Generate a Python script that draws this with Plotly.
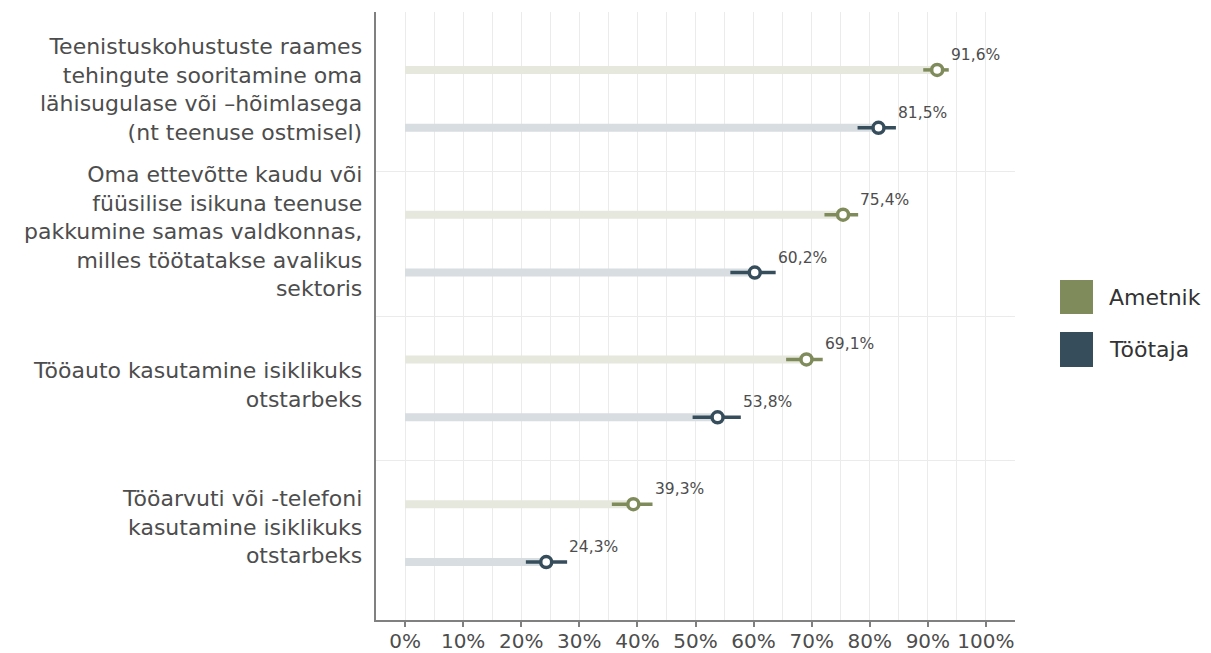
import plotly.graph_objects as go

# ---- data ----
categories = [
    "Teenistuskohustuste raames<br>tehingute sooritamine oma<br>lähisugulase või –hõimlasega<br>(nt teenuse ostmisel)",
    "Oma ettevõtte kaudu või<br>füüsilise isikuna teenuse<br>pakkumine samas valdkonnas,<br>milles töötatakse avalikus<br>sektoris",
    "Tööauto kasutamine isiklikuks<br>otstarbeks",
    "Tööarvuti või -telefoni<br>kasutamine isiklikuks<br>otstarbeks",
]
series_names = ["Ametnik", "Töötaja"]
ametnik_values = [91.6, 75.4, 69.1, 39.3]
ametnik_lower = [89.2, 72.2, 65.6, 35.6]
ametnik_upper = [93.6, 78.0, 71.9, 42.6]
tootaja_values = [81.5, 60.2, 53.8, 24.3]
tootaja_lower = [77.9, 56.0, 49.5, 20.8]
tootaja_upper = [84.5, 63.8, 57.8, 27.9]
x_tick_values = [0, 10, 20, 30, 40, 50, 60, 70, 80, 90, 100]
x_tick_labels = [f"{v}%" for v in x_tick_values]

# ---- styles ----
dark_colors = ["#7f8b5a", "#364d5c"]
light_colors = ["#e6e8dd", "#d7dde0"]
offsets = [-0.2, 0.2]
text_color = "#4d4d4d"
FONT = "DejaVu Sans, Liberation Sans, Arial, sans-serif"

# page body has an 8px margin; compensate so the plot lands where the reference has it
OX, OY = 8, 8
W, H = 1211 - OX, 653 - OY
PL, PR, PT, PB = 376, 1015, 12, 620   # target plot box in screen pixels
ML, MR = PL - OX, (OX + W) - PR
MT, MB = PT - OY, (OY + H) - PB

cat_pos = list(range(1, len(categories) + 1))

fig = go.Figure()
series = [
    (ametnik_values, ametnik_lower, ametnik_upper),
    (tootaja_values, tootaja_lower, tootaja_upper),
]
annotations = []
for si, (vals, lo, hi) in enumerate(series):
    ys = [p + offsets[si] for p in cat_pos]
    fig.add_trace(go.Bar(
        x=vals, y=ys, orientation="h", width=0.055, base=0,
        marker=dict(color=light_colors[si], line=dict(width=0)),
        showlegend=False, hoverinfo="skip",
    ))
    fig.add_trace(go.Scatter(
        x=vals, y=ys, mode="markers", name=series_names[si],
        marker=dict(symbol="circle", size=11, color="white",
                    line=dict(color=dark_colors[si], width=3.5)),
        error_x=dict(type="data", symmetric=False,
                     array=[h - v for h, v in zip(hi, vals)],
                     arrayminus=[v - l for v, l in zip(vals, lo)],
                     color=dark_colors[si], thickness=3.5, width=0),
        showlegend=False,
    ))
    for v, h, y in zip(vals, hi, ys):
        annotations.append(dict(
            x=h, y=y, xref="x", yref="y", text=f"{v:.1f}".replace(".", ",") + "%",
            showarrow=False, xanchor="left", yanchor="middle", yshift=15,
            font=dict(family=FONT, size=15.5, color=text_color),
        ))

# category labels (right aligned, left of the axis)
for lab, p in zip(categories, cat_pos):
    n_lines = lab.count("<br>") + 1
    annotations.append(dict(
        x=0, y=p, xref="paper", yref="y", text=lab, align="right",
        showarrow=False, xanchor="right", yanchor="middle",
        xshift=-12, yshift=3 * (n_lines - 1),
        font=dict(family=FONT, size=22, color=text_color),
    ))

# manual legend (screen pixel -> paper)
pw, ph = PR - PL, PB - PT
def px_x(x):
    return (x - PL) / pw
def px_y(y):
    return (PB - y) / ph

shapes = []
legend_rows = [(280, 314), (332, 367)]
for i, name in enumerate(series_names):
    y0, y1 = legend_rows[i]
    shapes.append(dict(type="rect", xref="paper", yref="paper",
                       x0=px_x(1060), x1=px_x(1093), y0=px_y(y1), y1=px_y(y0),
                       fillcolor=dark_colors[i], line=dict(width=0)))
    annotations.append(dict(x=px_x(1107), y=px_y((y0 + y1) / 2), xref="paper", yref="paper",
                            text=name, showarrow=False, xanchor="left", yanchor="middle",
                            font=dict(family=FONT, size=22, color="#333333")))

fig.update_layout(
    width=W, height=H,
    margin=dict(l=ML, r=MR, t=MT, b=MB, pad=0, autoexpand=False),
    paper_bgcolor="white", plot_bgcolor="white",
    barmode="overlay", showlegend=False,
    annotations=annotations, shapes=shapes,
    font=dict(family=FONT, color=text_color),
)
fig.update_xaxes(
    range=[-5, 105], tickmode="array", tickvals=x_tick_values, ticktext=x_tick_labels,
    showgrid=True, gridcolor="#ebebeb", gridwidth=1,
    minor=dict(dtick=5, tick0=0, showgrid=True, gridcolor="#ebebeb", gridwidth=1, ticks=""),
    showline=True, linecolor="#808080", linewidth=2,
    ticks="outside", ticklen=5, tickcolor="#808080", tickwidth=2,
    ticklabelstandoff=-3,
    tickfont=dict(family=FONT, size=20, color=text_color),
    zeroline=False, automargin=False,
)
fig.update_yaxes(
    range=[len(categories) + 0.6, 0.4], tickmode="array", tickvals=cat_pos,
    showticklabels=False, showgrid=False,
    minor=dict(tickmode="array", tickvals=[p + 0.5 for p in cat_pos[:-1]],
               showgrid=True, gridcolor="#ebebeb", gridwidth=1, ticks=""),
    showline=True, linecolor="#808080", linewidth=2,
    ticks="", zeroline=False, automargin=False,
)

fig.write_html("out.html")
